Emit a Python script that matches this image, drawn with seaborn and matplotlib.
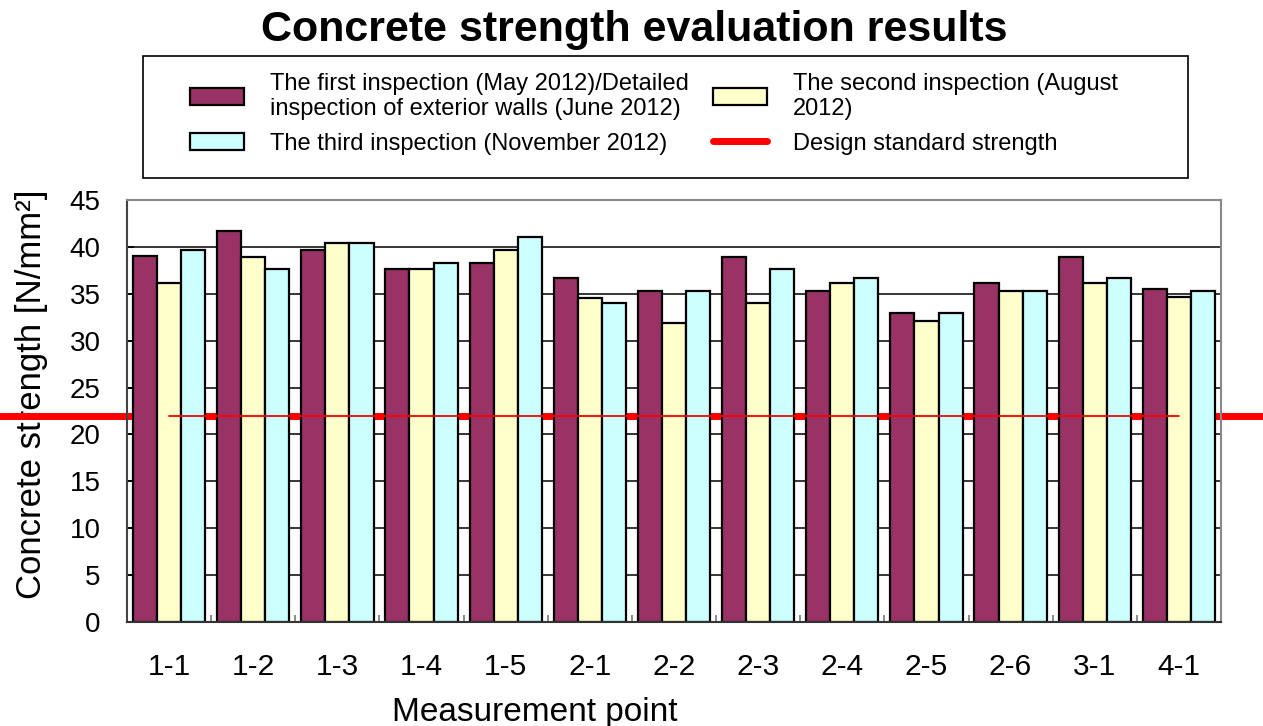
import matplotlib
matplotlib.use("Agg")
import matplotlib.pyplot as plt
from matplotlib.patches import Patch, Rectangle
from matplotlib.lines import Line2D
import seaborn as sns
import pandas as pd
import numpy as np

sns.set_theme(style="white")
plt.rcParams["font.family"] = ["Liberation Sans", "DejaVu Sans"]
plt.rcParams["text.color"] = "black"
plt.rcParams["axes.labelcolor"] = "black"
plt.rcParams["xtick.color"] = "black"
plt.rcParams["ytick.color"] = "black"

points = ["1-1", "1-2", "1-3", "1-4", "1-5", "2-1", "2-2",
          "2-3", "2-4", "2-5", "2-6", "3-1", "4-1"]
first = [39.0, 41.7, 39.7, 37.6, 38.3, 36.7, 35.3, 38.9, 35.3, 32.9, 36.2, 38.9, 35.5]
second = [36.2, 38.9, 40.4, 37.6, 39.7, 34.6, 31.9, 34.0, 36.2, 32.1, 35.3, 36.2, 34.7]
third = [39.7, 37.6, 40.4, 38.3, 41.1, 34.0, 35.3, 37.6, 36.7, 32.9, 35.3, 36.7, 35.3]
design_strength = 22.0

series_names = [
    "The first inspection (May 2012)/Detailed\ninspection of exterior walls (June 2012)",
    "The second inspection (August\n2012)",
    "The third inspection (November 2012)",
]
design_name = "Design standard strength"
colors = ["#993366", "#FFFFCC", "#CCFFFF"]

df = pd.DataFrame({
    "point": points * 3,
    "strength": first + second + third,
    "inspection": [series_names[0]] * len(points)
    + [series_names[1]] * len(points)
    + [series_names[2]] * len(points),
})

fig = plt.figure(figsize=(12.63, 7.26), dpi=100)
ax = fig.add_axes([127 / 1263, 1 - 622 / 726, (1221 - 127) / 1263, (622 - 200) / 726])

sns.barplot(data=df, x="point", y="strength", hue="inspection", hue_order=series_names,
            palette=colors, saturation=1, width=0.86, edgecolor="black", linewidth=1.6,
            legend=False, ax=ax, zorder=2)

# horizontal grid every 5
ax.set_axisbelow(True)
ax.yaxis.grid(True, color="black", linewidth=1.1, zorder=0.5)
ax.xaxis.grid(False)

# design standard strength: thick band behind bars, thin line on top
ax.axhline(design_strength, xmin=-0.116, xmax=1.04, color="red", linewidth=5,
           clip_on=False, zorder=1)
sns.lineplot(x=np.arange(len(points)), y=[design_strength] * len(points),
             color="red", linewidth=1.3, ax=ax, zorder=3)

ax.set_xlim(-0.5, len(points) - 0.5)
ax.set_ylim(0, 45)
ax.set_yticks(range(0, 46, 5))
ax.set_xticks(range(len(points)))
ax.set_xticklabels(points)
ax.set_xticks(np.arange(0.5, len(points) - 0.5, 1), minor=True)
ax.tick_params(axis="x", which="minor", direction="in", length=5, color="#777777", width=1.2, bottom=True)
ax.tick_params(axis="x", which="major", length=0, labelsize=21.5, pad=22)
ax.tick_params(axis="y", which="major", direction="in", length=5, color="black",
               labelsize=20, pad=19, left=True)

for side in ["left", "right", "top"]:
    ax.spines[side].set_color("#888888")
    ax.spines[side].set_linewidth(1.5)
ax.spines["left"].set_color("#444444")
ax.spines["bottom"].set_color("#333333")
ax.spines["bottom"].set_linewidth(1.5)

ax.set_xlabel("Measurement point", fontsize=24)
ax.set_ylabel("Concrete strength [N/mm²]", fontsize=25)
ax.xaxis.set_label_coords(0.373, -0.178)
ax.yaxis.set_label_coords(-0.072, 0.54)

fig.suptitle("Concrete strength evaluation results", fontsize=31, fontweight="bold",
             x=634 / 1263, y=1 - 10 / 726, va="top")

# legend box
fig.add_artist(Rectangle((143 / 1263, 1 - 178 / 726), (1188 - 143) / 1263, 122 / 726,
                         transform=fig.transFigure, fill=False, edgecolor="black",
                         linewidth=1.2))

handles = [
    Patch(facecolor=colors[0], edgecolor="black", linewidth=1.6),
    Patch(facecolor=colors[2], edgecolor="black", linewidth=1.6),
    Patch(facecolor=colors[1], edgecolor="black", linewidth=1.6),
    Line2D([0], [0], color="red", linewidth=5),
]
labels = [series_names[0], series_names[2], series_names[1], design_name]
leg = fig.legend(handles, labels, ncol=2, loc="upper left",
                 bbox_to_anchor=(190 / 1263, 1 - 73 / 726),
                 fontsize=17, frameon=False,
                 handlelength=2.3, handleheight=0.7, handletextpad=1.1,
                 columnspacing=1.0, labelspacing=0.55, borderpad=0,
                 borderaxespad=0)
for t in leg.get_texts():
    t.set_linespacing(1.15)

fig.savefig("out.png", dpi=100)
